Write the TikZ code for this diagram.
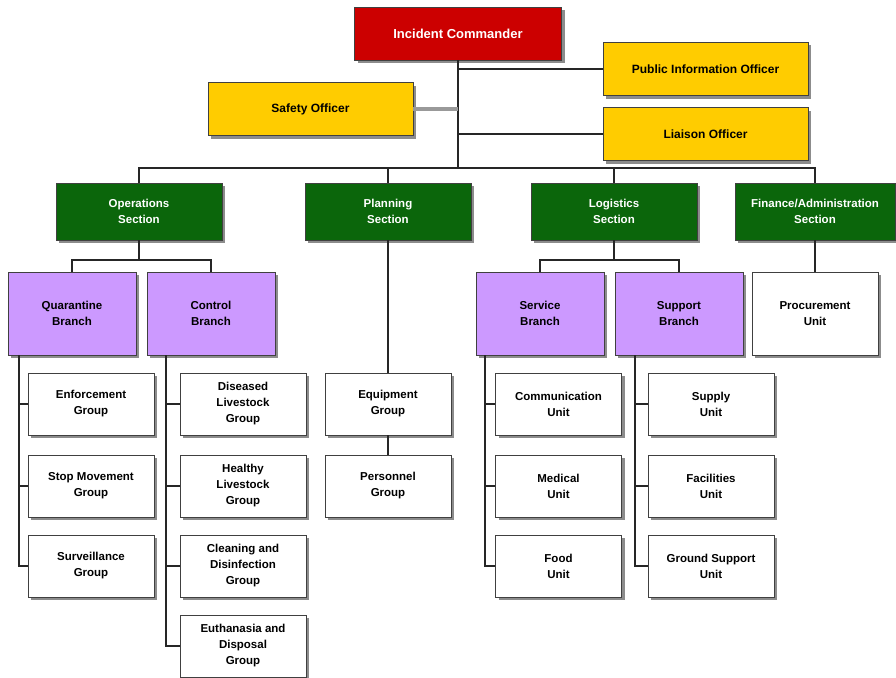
\documentclass[tikz,border=0pt]{standalone}
\usepackage{fontspec}
\setmainfont{Liberation Sans}
\usetikzlibrary{shadows}

\definecolor{commandred}{HTML}{CC0000}
\definecolor{officeryellow}{HTML}{FFCC00}
\definecolor{sectiongreen}{HTML}{0B660B}
\definecolor{branchpurple}{HTML}{CC99FF}

\begin{document}
\begin{tikzpicture}[x=1pt, y=-1pt,
	box/.style={draw=black!75, line width=0.8pt, align=center, inner sep=2pt,
		font=\fontsize{11.5}{16}\selectfont\bfseries,
		drop shadow={shadow xshift=3pt, shadow yshift=-3pt, fill=black!45, opacity=1}},
	commander/.style={box, fill=commandred, text=white, minimum width=207pt, minimum height=53pt,
		font=\fontsize{13}{16}\selectfont\bfseries},
	officer/.style={box, fill=officeryellow, minimum width=205pt, minimum height=53pt,
		font=\fontsize{12}{16}\selectfont\bfseries},
	section/.style={box, fill=sectiongreen, text=white, minimum width=166pt, minimum height=57pt,
		font=\fontsize{11.5}{16}\selectfont\bfseries},
	branch/.style={box, fill=branchpurple, minimum width=128pt, minimum height=83pt},
	unit/.style={box, fill=white, minimum width=126pt, minimum height=62pt},
	link/.style={draw=black!85, line width=2pt},
	]
\useasboundingbox (0,0) rectangle (896,677);

% Create the nodes
\node[commander] (commander) at (458,33.5) {Incident Commander};
\node[officer] (info) at (705.5,69) {Public Information Officer};
\node[officer] (safety) at (310.5,109) {Safety Officer};
\node[officer] (liaison) at (705.5,134) {Liaison Officer};

\node[section] (operations) at (139,211.5) {Operations\\Section};
\node[section] (planning) at (388,211.5) {Planning\\Section};
\node[section] (logistics) at (614,211.5) {Logistics\\Section};
\node[section, minimum width=160pt] (finance) at (815,211.5) {Finance/Administration\\Section};

\node[branch] (quarantine) at (72,313.5) {Quarantine\\Branch};
\node[branch] (control) at (211,313.5) {Control\\Branch};
\node[branch] (service) at (540,313.5) {Service\\Branch};
\node[branch] (support) at (679,313.5) {Support\\Branch};
\node[unit, minimum height=83pt] (procurement) at (815,313.5) {Procurement\\Unit};

\node[unit] (enforcement) at (91,404) {Enforcement\\Group};
\node[unit] (stopmove) at (91,486) {Stop Movement\\Group};
\node[unit] (surveillance) at (91,566) {Surveillance\\Group};

\node[unit] (diseased) at (243,404) {Diseased\\Livestock\\Group};
\node[unit] (healthy) at (243,486) {Healthy\\Livestock\\Group};
\node[unit] (cleaning) at (243,566) {Cleaning and\\Disinfection\\Group};
\node[unit] (euthanasia) at (243,646) {Euthanasia and\\Disposal\\Group};

\node[unit] (equipment) at (388,404) {Equipment\\Group};
\node[unit] (personnel) at (388,486) {Personnel\\Group};

\node[unit] (communication) at (558.5,404) {Communication\\Unit};
\node[unit] (medical) at (558.5,486) {Medical\\Unit};
\node[unit] (food) at (558.5,566) {Food\\Unit};

\node[unit] (supply) at (711,404) {Supply\\Unit};
\node[unit] (facilities) at (711,486) {Facilities\\Unit};
\node[unit] (ground) at (711,566) {Ground Support\\Unit};

% Connect them
\coordinate (bus) at (458,168);
\coordinate (opsbus) at (139,260);
\coordinate (logbus) at (614,260);

\draw[link] (commander.south) -- (commander.south |- bus);
\draw[link] (info.west) -- (info.west -| commander.south);
\draw[link, draw=black!40, line width=3.5pt] (safety.east) -- (safety.east -| commander.south);
\draw[link] (liaison.west) -- (liaison.west -| commander.south);

\draw[link] (operations.north) |- (bus) -| (finance.north);
\draw[link] (planning.north) -- (planning.north |- bus);
\draw[link] (logistics.north) -- (logistics.north |- bus);

\draw[link] (operations.south) -- (opsbus);
\draw[link] (quarantine.north) |- (opsbus) -| (control.north);
\draw[link] (logistics.south) -- (logbus);
\draw[link] (service.north) |- (logbus) -| (support.north);
\draw[link] (finance.south) -- (procurement.north);

\draw[link] (planning.south) -- (equipment.north);
\draw[link] (equipment.south) -- (personnel.north);

\foreach \g in {enforcement,stopmove,surveillance}
	\draw[link] ([xshift=11pt]quarantine.south west) |- (\g.west);
\foreach \g in {diseased,healthy,cleaning,euthanasia}
	\draw[link] ([xshift=19pt]control.south west) |- (\g.west);
\foreach \g in {communication,medical,food}
	\draw[link] ([xshift=9pt]service.south west) |- (\g.west);
\foreach \g in {supply,facilities,ground}
	\draw[link] ([xshift=20pt]support.south west) |- (\g.west);

\end{tikzpicture}
\end{document}
